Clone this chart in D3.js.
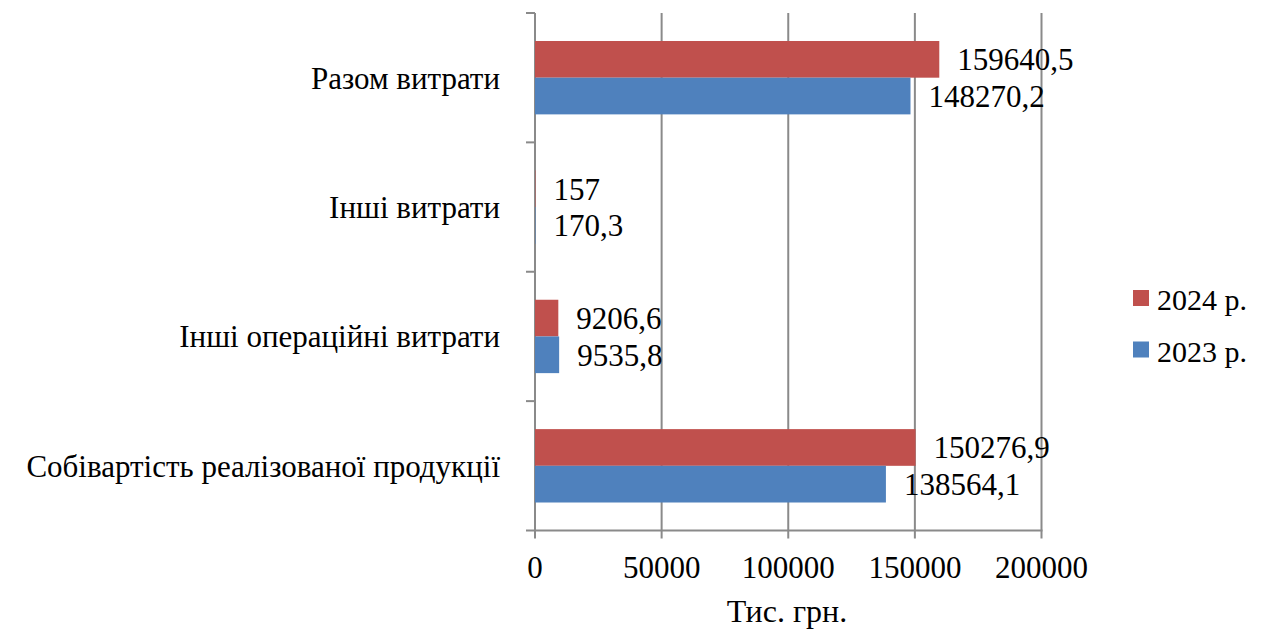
<!DOCTYPE html>
<html>
<head>
<meta charset="UTF-8">
<script src="https://cdn.jsdelivr.net/npm/d3@7/dist/d3.min.js"></script>
<style>
body{
  margin:0;
  background-color:#fff;
}
text{
  font-family:"Liberation Serif","Times New Roman",serif;
  fill:#000;
}
</style>
</head>
<body>
<script>
// categories top to bottom, as in the picture
var categories = ["Разом витрати", "Інші витрати", "Інші операційні витрати", "Собівартість реалізованої продукції"]
var series = ["2024 р.", "2023 р."]
var values2024 = [159640.5, 157, 9206.6, 150276.9]
var values2023 = [148270.2, 170.3, 9535.8, 138564.1]
var xTicks = [0, 50000, 100000, 150000, 200000]

var colors = ["#C0504D", "#4F81BD"]
var gridColor = "#8a8a8a"

var width = 1265
var height = 629

var svg = d3.select("body")
  .append("svg")
  .attr("width", width)
  .attr("height", height)

var x = d3.scaleLinear().domain([0, 200000]).range([535, 1041.5])

var y0 = d3.scaleBand().domain(categories).range([13, 530.5])
var y1 = d3.scaleBand().domain(series).range([0, y0.bandwidth()]).paddingOuter(0.763)

var color = d3.scaleOrdinal(series, colors)

var fmt = d => String(d).replace(".", ",")

// vertical gridlines
svg.selectAll(".grid")
  .data(xTicks)
  .enter().append("line")
  .attr("x1", d => x(d))
  .attr("x2", d => x(d))
  .attr("y1", y0.range()[0])
  .attr("y2", y0.range()[1] + 8)
  .attr("stroke", gridColor)
  .attr("stroke-width", 2)

// bottom axis line
svg.append("line")
  .attr("x1", 526)
  .attr("x2", x(200000) + 1)
  .attr("y1", y0.range()[1])
  .attr("y2", y0.range()[1])
  .attr("stroke", gridColor)
  .attr("stroke-width", 2)

// category tick marks on left axis
var bounds = categories.map(c => y0(c))
svg.selectAll(".ctick")
  .data(bounds)
  .enter().append("line")
  .attr("x1", 526)
  .attr("x2", x(0))
  .attr("y1", d => d)
  .attr("y2", d => d)
  .attr("stroke", gridColor)
  .attr("stroke-width", 2)

var rows = categories.map((c, i) => ({cat: c, vals: [
  {s: series[0], v: values2024[i]},
  {s: series[1], v: values2023[i]}
]}))

var groups = svg.selectAll(".cat")
  .data(rows)
  .enter().append("g")
  .attr("transform", d => "translate(0," + y0(d.cat) + ")")

groups.selectAll("rect")
  .data(d => d.vals)
  .enter().append("rect")
  .attr("x", x(0))
  .attr("y", d => y1(d.s))
  .attr("width", d => x(d.v) - x(0))
  .attr("height", y1.bandwidth())
  .attr("fill", d => color(d.s))

groups.selectAll(".lbl")
  .data(d => d.vals)
  .enter().append("text")
  .attr("x", d => x(d.v) + 18)
  .attr("y", d => y1(d.s) + y1.bandwidth() / 2 + 11)
  .attr("font-size", 31)
  .text(d => fmt(d.v))

// category labels
svg.selectAll(".catlbl")
  .data(categories)
  .enter().append("text")
  .attr("x", 500)
  .attr("y", d => y0(d) + y0.bandwidth() / 2 + 11)
  .attr("text-anchor", "end")
  .attr("font-size", 31)
  .text(d => d)

// x tick labels
svg.selectAll(".xlbl")
  .data(xTicks)
  .enter().append("text")
  .attr("x", d => x(d))
  .attr("y", 578)
  .attr("text-anchor", "middle")
  .attr("font-size", 31)
  .text(d => d)

svg.append("text")
  .attr("x", 787)
  .attr("y", 622)
  .attr("text-anchor", "middle")
  .attr("font-size", 32)
  .text("Тис. грн.")

// legend
var legend = svg.selectAll(".leg")
  .data(series)
  .enter().append("g")
  .attr("transform", (d, i) => "translate(1133," + (290 + i * 51.5) + ")")

legend.append("rect")
  .attr("width", 16)
  .attr("height", 16)
  .attr("fill", d => color(d))

legend.append("text")
  .attr("x", 24)
  .attr("y", 20)
  .attr("font-size", 30)
  .text(d => d)
</script>
</body>
</html>
